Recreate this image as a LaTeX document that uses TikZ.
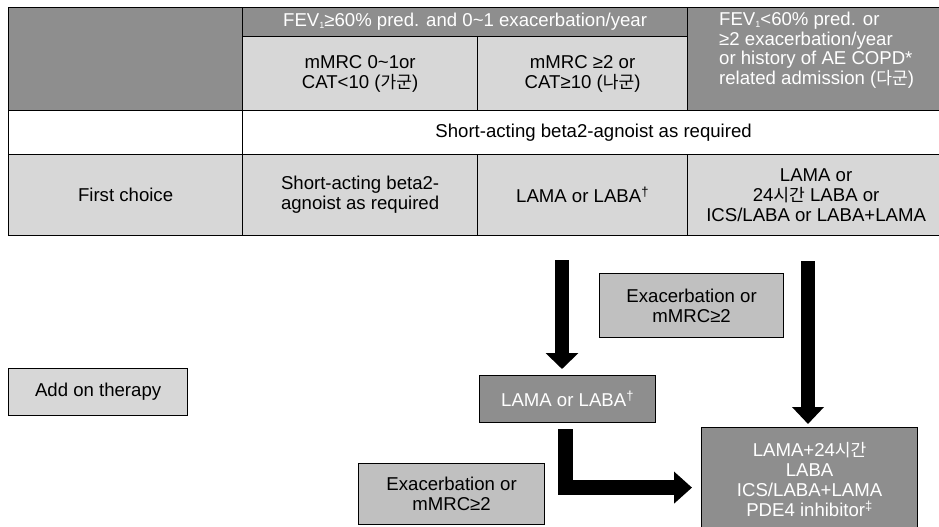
\documentclass[tikz,border=0pt]{standalone}
\usepackage{fontspec}
\setmainfont{Liberation Sans}
\newfontfamily\kr{Noto Sans CJK KR}[Scale=0.92]
\usetikzlibrary{arrows.meta,calc}
\definecolor{dk}{HTML}{8E8E8E}
\definecolor{lt}{HTML}{D7D7D7}
\definecolor{md}{HTML}{C0C0C0}
\newcommand\fsz{\fontsize{18.6}{20}\selectfont}
\newcommand\subone{\raisebox{-2pt}{\fontsize{9}{9}\selectfont 1}}
\newcommand\tld{\textasciitilde}
\begin{document}
\begin{tikzpicture}[x=1pt,y=-1pt,
  cell/.style={draw=black, line width=1.2pt, inner sep=0pt, anchor=north west, align=center, font=\fsz},
  dkcell/.style={cell, fill=dk, text=white},
  ltcell/.style={cell, fill=lt},
  mdcell/.style={cell, fill=md},
  fat/.style={draw=black, line width=14pt, -{Triangle[width=32pt,length=16pt]}}]
\useasboundingbox (0,0) rectangle (939,527);
% table
\node[dkcell, minimum width=234pt, minimum height=103pt] (c00) at (8,7) {};
\node[dkcell, minimum width=445pt, minimum height=29pt] (h1) at (242,7) {FEV\subone≥60\% pred. and 0\tld1 exacerbation/year};
\node[ltcell, minimum width=235pt, minimum height=74pt] (c11) at (242,36) {mMRC 0\tld1or\\CAT<10 ({\kr 가군})};
\node[ltcell, minimum width=210pt, minimum height=74pt] (c12) at (477,36) {mMRC ≥2 or\\CAT≥10 ({\kr 나군})};
\node[dkcell, minimum width=257pt, minimum height=103pt] (h2) at (687,7) {};
\node[anchor=west, inner sep=0pt, align=left, text=white, font=\fontsize{18.6}{19.5}\selectfont] (h2t) at (719,50)
  {FEV\subone<60\% pred. or\\≥2 exacerbation/year\\or history of AE COPD*\\related admission ({\kr 다군})};
\node[cell, fill=white, minimum width=234pt, minimum height=44pt] (r2a) at (8,110) {};
\node[cell, fill=white, minimum width=702pt, minimum height=44pt] (r2b) at (242,110) {Short-acting beta2-agnoist as required};
\node[ltcell, minimum width=234pt, minimum height=81pt] (r3a) at (8,154) {First choice};
\node[ltcell, minimum width=235pt, minimum height=81pt, align=left] (r3b) at (242,154) {Short-acting beta2-\\agnoist as required};
\node[ltcell, minimum width=210pt, minimum height=81pt] (r3c) at (477,154) {LAMA or LABA\textsuperscript{†}};
\node[ltcell, minimum width=257pt, minimum height=81pt] (r3d) at (687,154) {LAMA or\\24{\kr 시간} LABA or\\ICS/LABA or LABA+LAMA};
% lower boxes
\node[ltcell, minimum width=179pt, minimum height=47pt] (add) at (8,368) {Add on therapy};
\node[mdcell, minimum width=184pt, minimum height=64pt] (ex1) at (599,273) {Exacerbation or\\mMRC≥2};
\node[mdcell, minimum width=186pt, minimum height=61pt] (ex2) at (358,463) {Exacerbation or\\mMRC≥2};
\node[dkcell, minimum width=176pt, minimum height=47pt] (lama) at (479,375) {LAMA or LABA\textsuperscript{†}};
\node[dkcell, minimum width=216pt, minimum height=104pt] (big) at (701,427) {LAMA+24{\kr 시간}\\LABA\\ICS/LABA+LAMA\\PDE4 inhibitor\textsuperscript{‡}};
% arrows
\coordinate (a1) at (562,260);
\coordinate (a2) at (808,261);
\draw[fat, shorten >=6pt] (a1) -- (a1 |- lama.north);
\draw[fat, -{Triangle[width=31pt,length=17pt]}, shorten >=3pt] (a2) -- (a2 |- big.north);
\draw[fat, line width=15pt, line join=miter, -{Triangle[width=31pt,length=18pt]}, shorten >=9pt]
  ([xshift=-2pt,yshift=-6pt]lama.south) |- ([yshift=-8pt]big.west);
\end{tikzpicture}
\end{document}
